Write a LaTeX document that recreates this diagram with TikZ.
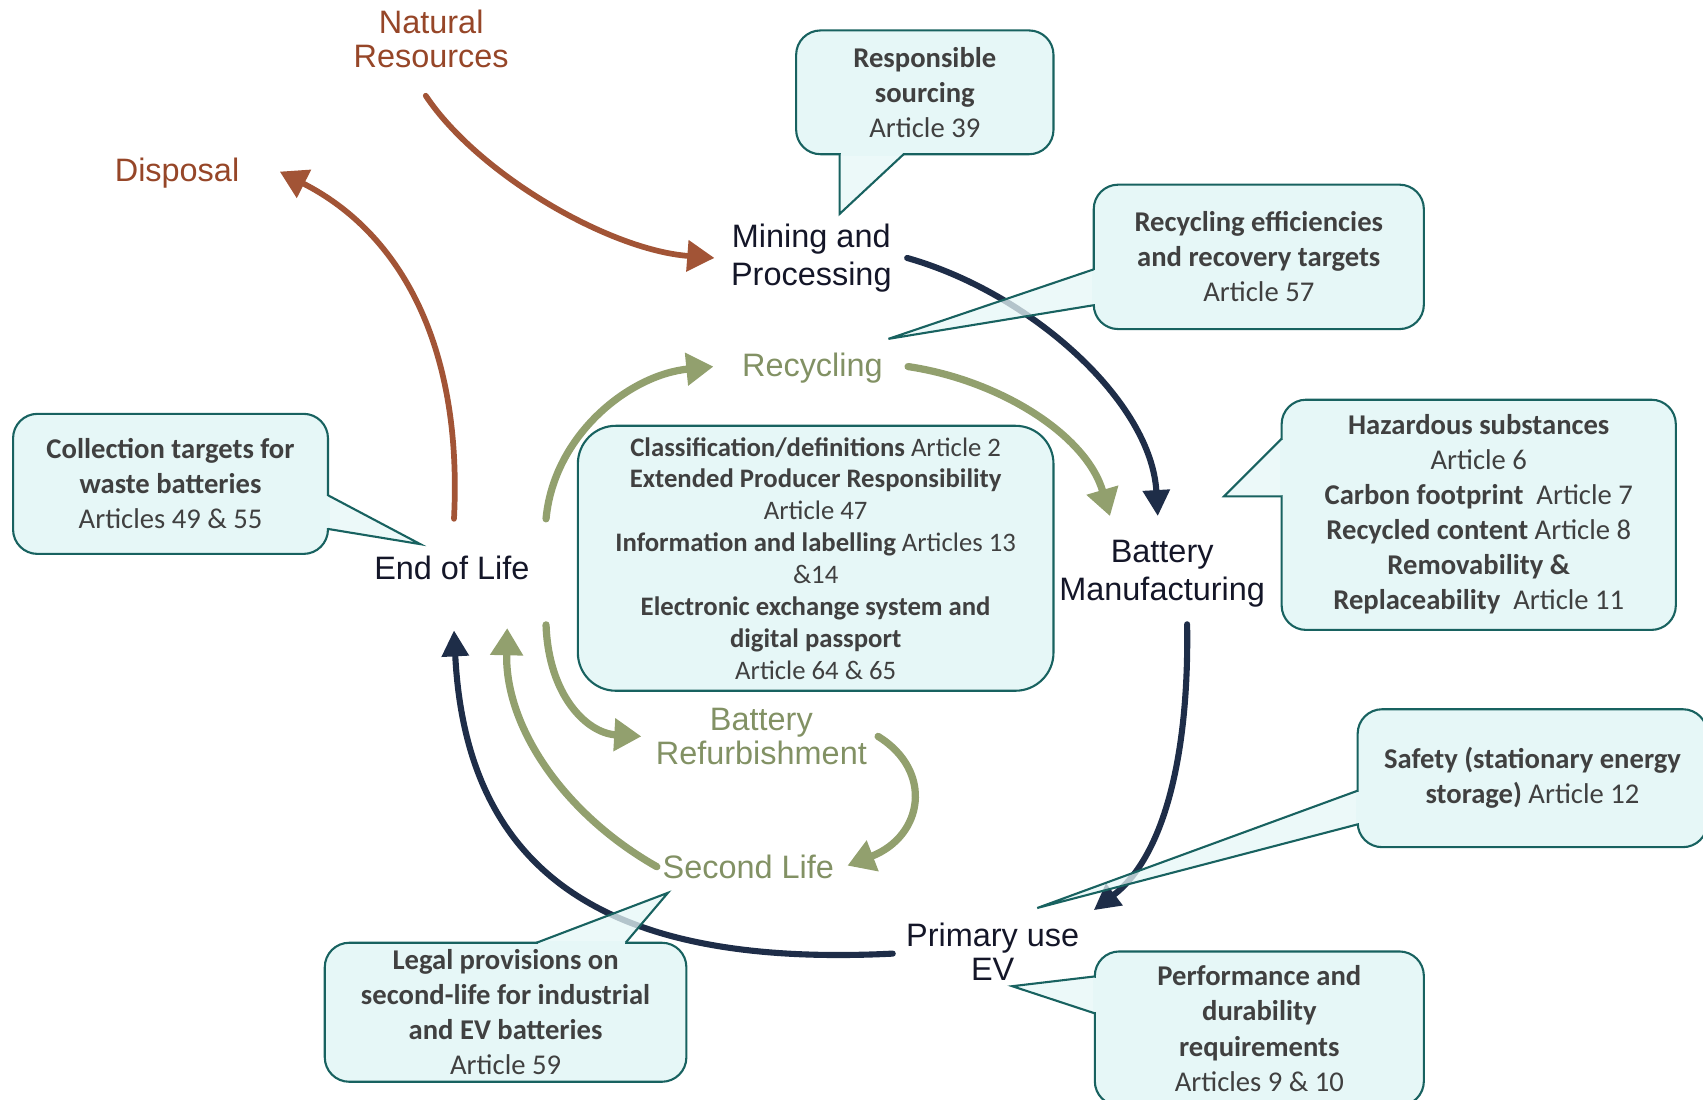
\documentclass[tikz,border=0pt]{standalone}
\usepackage{fontspec}
\setmainfont{Carlito}
\newfontfamily\lblfont{Liberation Sans}
\usetikzlibrary{arrows.meta}
\definecolor{callbg}{RGB}{230,247,247}
\definecolor{callline}{RGB}{24,98,96}
\definecolor{calltext}{RGB}{64,64,64}
\definecolor{brownarr}{RGB}{162,84,54}
\definecolor{browntext}{RGB}{150,70,40}
\definecolor{navyarr}{RGB}{30,45,72}
\definecolor{greenarr}{RGB}{146,160,110}
\definecolor{greentext}{RGB}{130,145,100}
\definecolor{darktext}{RGB}{20,22,40}
\begin{document}
\begin{tikzpicture}[x=0.02cm,y=-0.02cm,
  lbl/.style={font=\lblfont\fontsize{17}{#1}\selectfont,align=center,inner sep=0pt},
  lbl/.default=20,
  callbox/.style={draw=callline,fill=callbg,line width=1.1pt,rounded corners=0.45cm,
    align=center,text=calltext,font=\fontsize{15}{18.4}\selectfont,inner sep=0pt},
  tipfill/.style={fill=callbg,fill opacity=0.75},
  tipline/.style={draw=callline,line width=1.1pt},
  brownline/.style={draw=brownarr,line width=3pt,line cap=round,-{Triangle[length=0.5cm,width=0.56cm]}},
  navyline/.style={draw=navyarr,line width=3.2pt,line cap=round,-{Triangle[length=0.48cm,width=0.48cm]}},
  greenline/.style={draw=greenarr,line width=3.8pt,line cap=round,-{Triangle[length=0.5cm,width=0.58cm]}}]
\useasboundingbox (0,0) rectangle (1568,1012);

\draw (397,36) node[lbl=18,text=browntext] (natural) {Natural\\Resources};
\draw (163,159) node[lbl,text=browntext] (disposal) {Disposal};
\draw (747,237.5) node[lbl,text=darktext] (mining) {Mining and\\Processing};
\draw (748,338.5) node[lbl,text=greentext] (recycling) {Recycling};
\draw (1070,528.5) node[lbl,text=darktext] (battery) {Battery\\Manufacturing};
\draw (416,523) node[lbl,text=darktext] (eol) {End of Life};
\draw (701,678) node[lbl=18,text=greentext] (refurb) {Battery\\Refurbishment};
\draw (689,798) node[lbl,text=greentext] (second) {Second Life};
\draw (914,876) node[lbl=18,text=darktext] (primary) {Primary use\\EV};

\draw[brownline] ([shift={(-5,25)}]natural.south) .. controls (440,160) and (560,230) .. ([shift={(-15,0)}]mining.west);
\draw[brownline] ([shift={(2,-34)}]eol.north) .. controls (426,320) and (370,215) .. ([shift={(37,-1)}]disposal.east);
\draw[navyline] ([shift={(14,0)}]mining.east) .. controls (950,270) and (1060,370) .. ([shift={(-4,-22)}]battery.north);
\draw[navyline] ([shift={(23,15)}]battery.south) .. controls (1095,700) and (1070,790) .. ([shift={(13,-11)}]primary.north east);
\draw[navyline] ([shift={(-12,2)}]primary.west) .. controls (580,890) and (430,820) .. ([shift={(2,46)}]eol.south);
\draw[greenline] ([shift={(15,-34)}]eol.north east) .. controls (510,400) and (580,345) .. ([shift={(-26,-1)}]recycling.west);
\draw[greenline] ([shift={(23,-1)}]recycling.east) .. controls (920,350) and (1000,400) .. ([shift={(-48,-22)}]battery.north);
\draw[greenline] ([shift={(15,41)}]eol.south east) .. controls (505,640) and (540,675) .. ([shift={(-13,0)}]refurb.west);
\draw[greenline] ([shift={(10,0)}]refurb.east) .. controls (860,710) and (850,770) .. ([shift={(12,-1)}]second.east);
\draw[greenline] ([shift={(-5,0)}]second.west) .. controls (520,750) and (465,670) .. ([shift={(51,44)}]eol.south);

\draw (851.5,85) node[callbox,minimum width=4.74cm,minimum height=2.28cm] (sourcing) {\textbf{Responsible}\\\textbf{sourcing}\\Article 39};
\fill[tipfill] (773,142) -- (773,197) -- (832,142) -- cycle;
\fill[callbg] (774,140.6) rectangle (831,143.4);
\draw[tipline] (773,142) -- (773,197) -- (832,142);

\draw (1159,236.5) node[callbox,minimum width=6.08cm,minimum height=2.66cm] (efficiency) {\textbf{Recycling efficiencies}\\\textbf{and recovery targets}\\Article 57};
\fill[tipfill] (1007,248) -- (818,312) -- (1007,281) -- cycle;
\fill[callbg] (1005.6,249) rectangle (1008.4,280);
\draw[tipline] (1007,248) -- (818,312) -- (1007,281);

\draw (1361.5,474) node[callbox,minimum width=7.26cm,minimum height=4.24cm,text depth=0.1cm] (hazard) {\textbf{Hazardous substances}\\Article 6\\\textbf{Carbon footprint}\ \ Article 7\\\textbf{Recycled content} Article 8\\\textbf{Removability \&}\\\textbf{Replaceability}\ \ Article 11};
\fill[tipfill] (1180,404) -- (1127,457) -- (1180,457) -- cycle;
\fill[callbg] (1178.6,405) rectangle (1181.4,456);
\draw[tipline] (1180,404) -- (1127,457) -- (1180,457);

\draw (1411,716.5) node[callbox,minimum width=6.44cm,minimum height=2.54cm] (safety) {\textbf{Safety (stationary energy}\\\textbf{storage)} Article 12};
\fill[tipfill] (1250,728) -- (955,836) -- (1250,759) -- cycle;
\fill[callbg] (1248.6,729) rectangle (1251.4,758);
\draw[tipline] (1250,728) -- (955,836) -- (1250,759);

\draw (1159.5,947) node[callbox,minimum width=6.06cm,minimum height=2.84cm] (durability) {\textbf{Performance and}\\\textbf{durability}\\\textbf{requirements}\\Articles 9 \& 10};
\fill[tipfill] (1008,899) -- (932,908) -- (1008,933) -- cycle;
\fill[callbg] (1006.6,900) rectangle (1009.4,932);
\draw[tipline] (1008,899) -- (932,908) -- (1008,933);

\draw (465.5,932) node[callbox,minimum width=6.66cm,minimum height=2.56cm] (secondlife) {\textbf{Legal provisions on}\\\textbf{second-life for industrial}\\\textbf{and EV batteries}\\Article 59};
\fill[tipfill] (494,868) -- (615,822) -- (576,868) -- cycle;
\fill[callbg] (495,866.6) rectangle (575,869.4);
\draw[tipline] (494,868) -- (615,822) -- (576,868);

\draw (157,445.5) node[callbox,minimum width=5.8cm,minimum height=2.58cm] (collection) {\textbf{Collection targets for}\\\textbf{waste batteries}\\Articles 49 \& 55};
\fill[tipfill] (302,456) -- (387,501) -- (302,487) -- cycle;
\fill[callbg] (300.6,457) rectangle (303.4,486);
\draw[tipline] (302,456) -- (387,501) -- (302,487);

\draw (751,514) node[callbox,rounded corners=0.7cm,minimum width=8.76cm,minimum height=4.88cm,font=\fontsize{14}{16.7}\selectfont] (general) {\textbf{Classification/definitions} Article 2\\\textbf{Extended Producer Responsibility}\\Article 47\\\textbf{Information and labelling} Articles 13\\\&14\\\textbf{Electronic exchange system and}\\\textbf{digital passport}\\Article 64 \& 65};
\end{tikzpicture}
\end{document}
